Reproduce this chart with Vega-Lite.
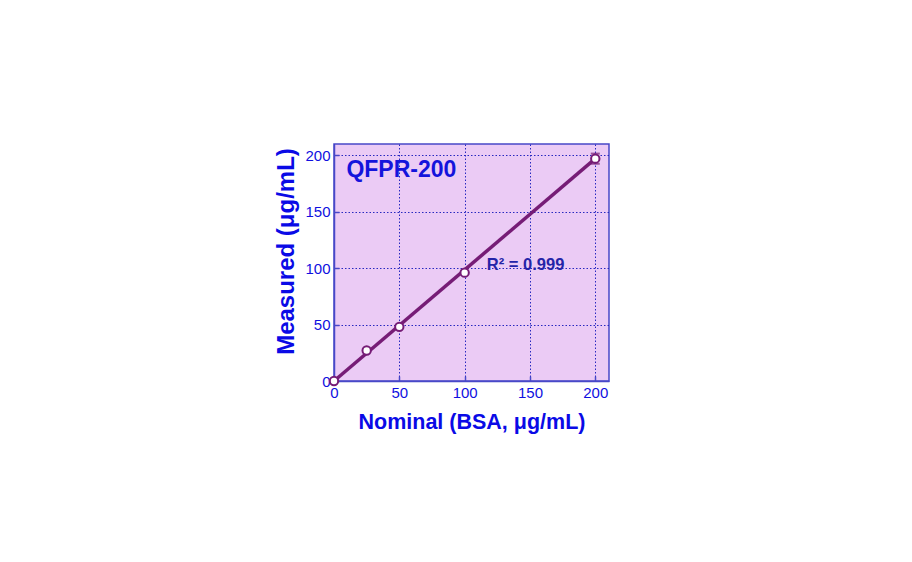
{
  "$schema": "https://vega.github.io/schema/vega-lite/v6.json",
  "autosize": "none",
  "width": 275,
  "height": 237,
  "padding": {"left": 334, "top": 144, "right": 303, "bottom": 181},
  "background": "white",
  "config": {
    "view": {"fill": "#EBCBF5", "stroke": "#4848C8", "strokeWidth": 1.5},
    "font": "Liberation Sans",
    "axis": {
      "labelColor": "#1010E0",
      "labelFontSize": 15,
      "labelOverlap": false,
      "labelFlush": false,
      "titleColor": "#0A0AE6",
      "titleFontWeight": "bold",
      "gridColor": "#2828C0",
      "gridDash": [1.5, 2],
      "gridWidth": 1,
      "gridOpacity": 1,
      "domainColor": "#4848C8",
      "domainWidth": 1.5,
      "tickColor": "#4848C8",
      "tickSize": -5,
      "tickWidth": 1.5
    }
  },
  "datasets": {
    "pts": [
      {"nominal": 0, "measured": 0},
      {"nominal": 25, "measured": 27},
      {"nominal": 50, "measured": 48},
      {"nominal": 100, "measured": 96},
      {"nominal": 200, "measured": 197}
    ],
    "fit": [
      {"nominal": 0, "measured": 0},
      {"nominal": 200, "measured": 197}
    ],
    "err": [
      {"nominal": 200, "lo": 192.5, "hi": 201.5}
    ],
    "labels": [
      {"nominal": 9.5, "measured": 187, "text": "QFPR-200", "kind": "title"},
      {"nominal": 117, "measured": 102.5, "text": "R² = 0.999", "kind": "r2"}
    ]
  },
  "layer": [
    {
      "data": {"name": "fit"},
      "mark": {"type": "line", "color": "#761C76", "strokeWidth": 3.5},
      "encoding": {
        "x": {
          "field": "nominal", "type": "quantitative",
          "scale": {"domain": [0, 210.5], "nice": false, "zero": false},
          "axis": {"values": [0, 50, 100, 150, 200], "title": "Nominal (BSA, μg/mL)", "titleFontSize": 21.5, "labelPadding": 9, "titlePadding": 11}
        },
        "y": {
          "field": "measured", "type": "quantitative",
          "scale": {"domain": [0, 210], "nice": false, "zero": false},
          "axis": {"values": [0, 50, 100, 150, 200], "title": "Measured (μg/mL)", "titleFontSize": 24, "labelPadding": 9, "titlePadding": 6, "titleY": 107}
        }
      }
    },
    {
      "data": {"name": "err"},
      "mark": {"type": "rule", "color": "#761C76", "strokeWidth": 2},
      "encoding": {
        "x": {"field": "nominal", "type": "quantitative"},
        "y": {"field": "lo", "type": "quantitative"},
        "y2": {"field": "hi"}
      }
    },
    {
      "data": {"name": "err"},
      "mark": {"type": "tick", "color": "#761C76", "thickness": 2, "size": 9, "orient": "horizontal"},
      "encoding": {
        "x": {"field": "nominal", "type": "quantitative"},
        "y": {"field": "lo", "type": "quantitative"}
      }
    },
    {
      "data": {"name": "err"},
      "mark": {"type": "tick", "color": "#761C76", "thickness": 2, "size": 9, "orient": "horizontal"},
      "encoding": {
        "x": {"field": "nominal", "type": "quantitative"},
        "y": {"field": "hi", "type": "quantitative"}
      }
    },
    {
      "data": {"name": "pts"},
      "mark": {"type": "point", "shape": "circle", "filled": true, "fill": "white", "stroke": "#761C76", "strokeWidth": 2, "size": 70, "opacity": 1},
      "encoding": {
        "x": {"field": "nominal", "type": "quantitative"},
        "y": {"field": "measured", "type": "quantitative"}
      }
    },
    {
      "data": {"name": "labels"},
      "transform": [{"filter": "datum.kind == 'title'"}],
      "mark": {"type": "text", "align": "left", "baseline": "middle", "fontSize": 23, "fontWeight": "bold", "color": "#1414DC"},
      "encoding": {
        "x": {"field": "nominal", "type": "quantitative"},
        "y": {"field": "measured", "type": "quantitative"},
        "text": {"field": "text"}
      }
    },
    {
      "data": {"name": "labels"},
      "transform": [{"filter": "datum.kind == 'r2'"}],
      "mark": {"type": "text", "align": "left", "baseline": "middle", "fontSize": 16.5, "fontWeight": "bold", "color": "#2424A8"},
      "encoding": {
        "x": {"field": "nominal", "type": "quantitative"},
        "y": {"field": "measured", "type": "quantitative"},
        "text": {"field": "text"}
      }
    }
  ]
}
